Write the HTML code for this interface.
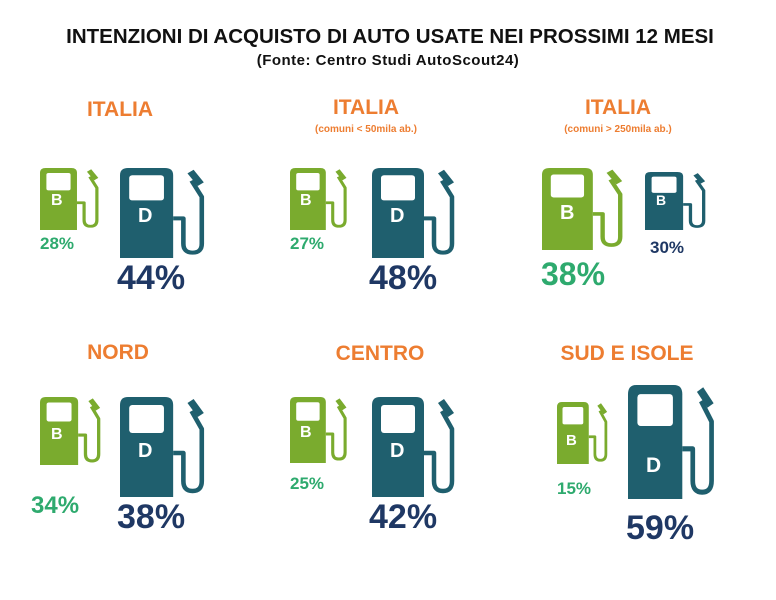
<!DOCTYPE html>
<html><head><meta charset="utf-8"><style>
body{margin:0;width:776px;height:600px;background:#fff;position:relative;overflow:hidden;font-family:"Liberation Sans",sans-serif;font-weight:bold}
.t{position:absolute;white-space:nowrap;transform:translateX(-50%)}
.h{color:#ed7d31;font-size:21px}
.s{color:#ed7d31;font-size:10px}
.p{position:absolute;white-space:nowrap}
.g{color:#2eaa6e}
.n{color:#1f3864}
svg{position:absolute}
</style></head><body>
<svg width="0" height="0" style="position:absolute">
<defs>
<symbol id="pump" viewBox="0 0 90 100" preserveAspectRatio="none">
<path d="M0 8 Q0 0 8 0 H44 Q52 0 52 8 V100 H0 Z" fill="currentColor"/>
<rect x="9" y="8" width="34" height="28" rx="3" fill="#fff"/>
<path d="M52 56 H62 V84 Q62 94 71 94 Q80 94 80 84 V32 L70 14" fill="none" stroke="currentColor" stroke-width="4.5" stroke-linejoin="round"/>
<path d="M66 6 L76 20 L82 16 L72 2 Z" fill="currentColor"/>
</symbol>
</defs></svg>
<div class="t" style="left:390px;top:25px;font-size:20.5px;color:#111">INTENZIONI DI ACQUISTO DI AUTO USATE NEI PROSSIMI 12 MESI</div>
<div class="t" style="left:388px;top:52px;font-size:15px;color:#111;letter-spacing:0.5px">(Fonte: Centro Studi AutoScout24)</div>

<div class="t h" style="left:120px;top:98px">ITALIA</div>
<div class="t h" style="left:366px;top:96px">ITALIA</div>
<div class="t s" style="left:366px;top:124px">(comuni &lt; 50mila ab.)</div>
<div class="t h" style="left:618px;top:96px">ITALIA</div>
<div class="t s" style="left:618px;top:124px">(comuni &gt; 250mila ab.)</div>
<div class="t h" style="left:118px;top:341px">NORD</div>
<div class="t h" style="left:380px;top:342px">CENTRO</div>
<div class="t h" style="left:627px;top:342px">SUD E ISOLE</div>

<!-- pumps -->
<svg style="left:40px;top:168px;color:#7aab2e" width="64" height="62"><use href="#pump"/></svg>
<svg style="left:120px;top:168px;color:#1f5f6e" width="92" height="90"><use href="#pump"/></svg>
<svg style="left:290px;top:168px;color:#7aab2e" width="62" height="62"><use href="#pump"/></svg>
<svg style="left:372px;top:168px;color:#1f5f6e" width="90" height="90"><use href="#pump"/></svg>
<svg style="left:542px;top:168px;color:#7aab2e" width="88" height="82"><use href="#pump"/></svg>
<svg style="left:645px;top:172px;color:#1f5f6e" width="66" height="58"><use href="#pump"/></svg>
<svg style="left:40px;top:397px;color:#7aab2e" width="66" height="68"><use href="#pump"/></svg>
<svg style="left:120px;top:397px;color:#1f5f6e" width="92" height="100"><use href="#pump"/></svg>
<svg style="left:290px;top:397px;color:#7aab2e" width="62" height="66"><use href="#pump"/></svg>
<svg style="left:372px;top:397px;color:#1f5f6e" width="90" height="100"><use href="#pump"/></svg>
<svg style="left:557px;top:402px;color:#7aab2e" width="55" height="62"><use href="#pump"/></svg>
<svg style="left:628px;top:385px;color:#1f5f6e" width="94" height="114"><use href="#pump"/></svg>

<!-- letters -->
<div class="p" style="left:51px;top:192px;color:#fff;font-size:16px">B</div>
<div class="p" style="left:138px;top:205px;color:#fff;font-size:20px">D</div>
<div class="p" style="left:300px;top:192px;color:#fff;font-size:16px">B</div>
<div class="p" style="left:390px;top:205px;color:#fff;font-size:20px">D</div>
<div class="p" style="left:560px;top:202px;color:#fff;font-size:20px">B</div>
<div class="p" style="left:656px;top:192px;color:#fff;font-size:14px">B</div>
<div class="p" style="left:51px;top:426px;color:#fff;font-size:16px">B</div>
<div class="p" style="left:138px;top:440px;color:#fff;font-size:20px">D</div>
<div class="p" style="left:300px;top:424px;color:#fff;font-size:16px">B</div>
<div class="p" style="left:390px;top:440px;color:#fff;font-size:20px">D</div>
<div class="p" style="left:566px;top:432px;color:#fff;font-size:15px">B</div>
<div class="p" style="left:646px;top:454px;color:#fff;font-size:21px">D</div>

<!-- percents -->
<div class="p g" style="left:40px;top:234px;font-size:17px">28%</div>
<div class="p n" style="left:117px;top:259px;font-size:34px">44%</div>
<div class="p g" style="left:290px;top:234px;font-size:17px">27%</div>
<div class="p n" style="left:369px;top:259px;font-size:34px">48%</div>
<div class="p g" style="left:541px;top:256px;font-size:32px">38%</div>
<div class="p n" style="left:650px;top:238px;font-size:17px">30%</div>
<div class="p g" style="left:31px;top:492px;font-size:24px">34%</div>
<div class="p n" style="left:117px;top:498px;font-size:34px">38%</div>
<div class="p g" style="left:290px;top:474px;font-size:17px">25%</div>
<div class="p n" style="left:369px;top:498px;font-size:34px">42%</div>
<div class="p g" style="left:557px;top:479px;font-size:17px">15%</div>
<div class="p n" style="left:626px;top:509px;font-size:34px">59%</div>
</body></html>
